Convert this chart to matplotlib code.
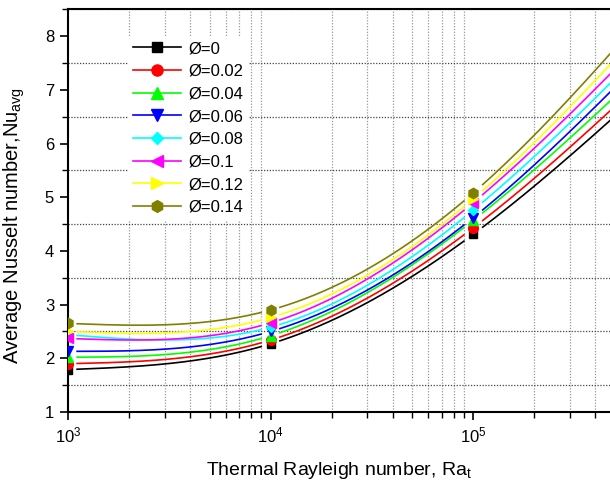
import numpy as np
import matplotlib
matplotlib.use("Agg")
import matplotlib.pyplot as plt
from matplotlib.ticker import LogLocator, MultipleLocator, NullFormatter

plt.rcParams['font.family'] = ['Liberation Sans', 'DejaVu Sans']
plt.rcParams['mathtext.fontset'] = 'custom'
plt.rcParams['mathtext.rm'] = 'Liberation Sans'
plt.rcParams['mathtext.it'] = 'Liberation Sans:italic'
plt.rcParams['mathtext.bf'] = 'Liberation Sans:bold'

# Data (the last point, Ra=1e6, lies beyond the visible right edge)
ra = [1e3, 1e4, 1e5, 1e6]
labels = ['Ø=0', 'Ø=0.02', 'Ø=0.04', 'Ø=0.06', 'Ø=0.08', 'Ø=0.1', 'Ø=0.12', 'Ø=0.14']
nu_0    = [1.79, 2.27, 4.31, 7.54]
nu_002  = [1.90, 2.34, 4.43, 7.75]
nu_004  = [2.02, 2.42, 4.57, 7.95]
nu_006  = [2.13, 2.50, 4.62, 8.20]
nu_008  = [2.44, 2.58, 4.76, 8.36]
nu_010  = [2.37, 2.66, 4.90, 8.55]
nu_012  = [2.50, 2.76, 4.97, 8.80]
nu_014  = [2.65, 2.90, 5.08, 9.07]
series = [nu_0, nu_002, nu_004, nu_006, nu_008, nu_010, nu_012, nu_014]
colors = ['#000000', '#ff0000', '#00ff00', '#0000ff', '#00ffff', '#ff00ff', '#ffff00', '#808000']
markers = ['s', 'o', '^', 'v', 'D', '<', '>', 'h']
msizes = [6, 7, 7.5, 7.5, 5.5, 7.5, 7.5, 7.5]
leg_msizes = [7, 8, 8, 8, 6.5, 8, 8, 8.5]


def natural_spline(x, y, xs):
    x = np.asarray(x, float)
    y = np.asarray(y, float)
    n = len(x)
    h = np.diff(x)
    A = np.zeros((n, n))
    r = np.zeros(n)
    A[0, 0] = A[-1, -1] = 1
    for i in range(1, n - 1):
        A[i, i - 1] = h[i - 1]
        A[i, i] = 2 * (h[i - 1] + h[i])
        A[i, i + 1] = h[i]
        r[i] = 6 * ((y[i + 1] - y[i]) / h[i] - (y[i] - y[i - 1]) / h[i - 1])
    M = np.linalg.solve(A, r)
    idx = np.clip(np.searchsorted(x, xs) - 1, 0, n - 2)
    x0, x1 = x[idx], x[idx + 1]
    hh = x1 - x0
    a = (x1 - xs) / hh
    b = (xs - x0) / hh
    return (a * y[idx] + b * y[idx + 1]
            + ((a ** 3 - a) * M[idx] + (b ** 3 - b) * M[idx + 1]) * hh ** 2 / 6)


fig = plt.figure(figsize=(6.1, 4.86), dpi=100)
ax = fig.add_axes([68/610, 1-412/486, 1-68/610, (412-9.3)/486])

xmax = 10**5.675
lx = np.log10(ra)
xs = np.linspace(3.0, 6.0, 1200)
gap = 0.045
for vals, c, m, ms, lms, lab in zip(series, colors, markers, msizes, leg_msizes, labels):
    ys = natural_spline(lx, vals, xs)
    mask = np.ones_like(xs, dtype=bool)
    for p in lx:
        mask &= np.abs(xs - p) > gap
    ys_m = np.where(mask, ys, np.nan)
    ax.plot(10**xs, ys_m, color=c, lw=1.2, zorder=3)
    ax.plot(ra, vals, linestyle='none', marker=m, ms=ms, color=c, mec=c, zorder=4)
    ax.plot([], [], color=c, lw=1.2, marker=m, ms=lms, mec=c, label=lab)

ax.set_xscale('log')
ax.set_xlim(1e3, xmax)
ax.set_ylim(1, 8.5)
ax.xaxis.set_major_locator(LogLocator(base=10, numticks=10))
ax.xaxis.set_minor_locator(LogLocator(base=10, subs=np.arange(2, 10), numticks=20))
ax.xaxis.set_minor_formatter(NullFormatter())
ax.yaxis.set_major_locator(MultipleLocator(1))
ax.yaxis.set_minor_locator(MultipleLocator(0.5))

ax.xaxis.grid(True, which='minor', linestyle=(0, (1, 1.3)), color='#999999', lw=0.9)
ax.yaxis.grid(True, which='minor', linestyle=(0, (1, 1.3)), color='#444444', lw=0.9)
ax.grid(which='major', visible=False)
ax.set_axisbelow(True)

ax.tick_params(which='major', direction='out', length=6, width=1.2, labelsize=12, pad=4)
ax.tick_params(which='minor', direction='out', length=4, width=1.0)
for s in ['left', 'bottom', 'top']:
    ax.spines[s].set_linewidth(1.5)
ax.spines['right'].set_visible(False)

ax.set_xlabel('Thermal Rayleigh number, Ra$_\\mathrm{t}$', fontsize=14, labelpad=10)
ax.set_ylabel('Average Nusselt number,Nu$_\\mathrm{avg}$', fontsize=14.5)
ax.yaxis.set_label_coords(-0.075, 0.462)

leg = ax.legend(loc='upper left', bbox_to_anchor=(128/610, 1-36/486), bbox_transform=fig.transFigure,
                frameon=True, fancybox=False, edgecolor='none', facecolor='white', framealpha=1,
                fontsize=12, handlelength=2.9, labelspacing=0.46, handletextpad=0.4,
                borderpad=0.3, borderaxespad=0)
leg.set_zorder(5)

fig.savefig('out.png', dpi=100)
